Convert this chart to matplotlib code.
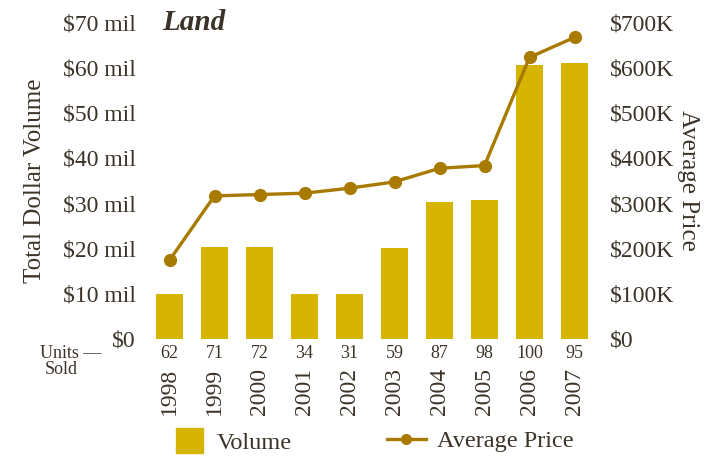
import matplotlib
matplotlib.use("Agg")
import matplotlib.pyplot as plt
from matplotlib.patches import Patch
from matplotlib.lines import Line2D
from matplotlib.ticker import FuncFormatter
import matplotlib.transforms as mtransforms

years = ["1998", "1999", "2000", "2001", "2002", "2003", "2004", "2005", "2006", "2007"]
volume_mil = [10.0, 20.3, 20.3, 10.0, 10.0, 20.1, 30.3, 30.7, 60.5, 60.9]
avg_price_k = [174, 316, 319, 322, 333, 347, 377, 383, 622, 666]
units_sold = [62, 71, 72, 34, 31, 59, 87, 98, 100, 95]
left_ticks = [0, 10, 20, 30, 40, 50, 60, 70]
right_ticks = [0, 100, 200, 300, 400, 500, 600, 700]

BAR = "#D6B500"
LINE = "#A87A00"
TXT = "#3B3327"
plt.rcParams["font.family"] = ["Liberation Serif", "DejaVu Serif"]
plt.rcParams["text.color"] = TXT

W, H = 718, 459
fig = plt.figure(figsize=(W / 100, H / 100), dpi=100)
x0, x1, yb, yt = 147, 597, 339, 22
ax = fig.add_axes([x0 / W, (H - yb) / H, (x1 - x0) / W, (yb - yt) / H])
ax2 = ax.twinx()

xs = list(range(len(years)))
ax.bar(xs, volume_mil, width=0.6, color=BAR, zorder=2)
ax.set_xlim(-0.5, len(years) - 0.5)
ax.set_ylim(0, 70)
ax.set_yticks(left_ticks)
ax.yaxis.set_major_formatter(FuncFormatter(lambda v, p: "$0" if v == 0 else f"${int(v)} mil"))

ax2.plot(xs, [p * 1000 for p in avg_price_k], color=LINE, lw=2.4, marker="o", ms=8.5, zorder=3)
ax2.set_ylim(0, 700000)
ax2.set_yticks([t * 1000 for t in right_ticks])
ax2.yaxis.set_major_formatter(FuncFormatter(lambda v, p: "$0" if v == 0 else f"${int(v/1000)}K"))

for a in (ax, ax2):
    for s in a.spines.values():
        s.set_visible(False)
    a.tick_params(length=0, labelsize=17, labelcolor=TXT)
ax.tick_params(axis="y", pad=8)
ax2.tick_params(axis="y", pad=9)

ax.set_xticks(xs)
ax.set_xticklabels(years, rotation=90, fontsize=17, color=TXT, va="top")
ax.tick_params(axis="x", pad=21)

ax.set_ylabel("Total Dollar Volume", fontsize=18, color=TXT, labelpad=12)
ax2.set_ylabel("Average Price", fontsize=18, color=TXT, rotation=270, labelpad=18)

trans = mtransforms.blended_transform_factory(ax.transData, fig.transFigure)
for i, u in enumerate(units_sold):
    ax.text(i, 1 - 353 / H, str(u), transform=trans, ha="center", va="center", fontsize=13, color=TXT)
fig.text(40 / W, 1 - 353 / H, "Units —", ha="left", va="center", fontsize=13, color=TXT)
fig.text(45 / W, 1 - 369 / H, "Sold", ha="left", va="center", fontsize=13, color=TXT)

ax.text(162 / W, 1 - 23 / H, "Land", transform=fig.transFigure, ha="left", va="center",
        fontsize=21, fontweight="bold", fontstyle="italic", color=TXT)

leg1 = fig.legend(handles=[Patch(color=BAR, label="Volume")], loc="center left",
                  bbox_to_anchor=(154 / W, 1 - 441 / H), frameon=False, fontsize=17.5,
                  handlelength=1.1, handleheight=1.2, handletextpad=0.6)
leg2 = fig.legend(handles=[Line2D([], [], color=LINE, lw=2.4, marker="o", ms=7, label="Average Price")],
                  loc="center left", bbox_to_anchor=(365 / W, 1 - 441 / H), frameon=False,
                  fontsize=17.5, handlelength=1.6, handletextpad=0.45)
for leg in (leg1, leg2):
    for t in leg.get_texts():
        t.set_color(TXT)

fig.savefig("out.png", dpi=100)
